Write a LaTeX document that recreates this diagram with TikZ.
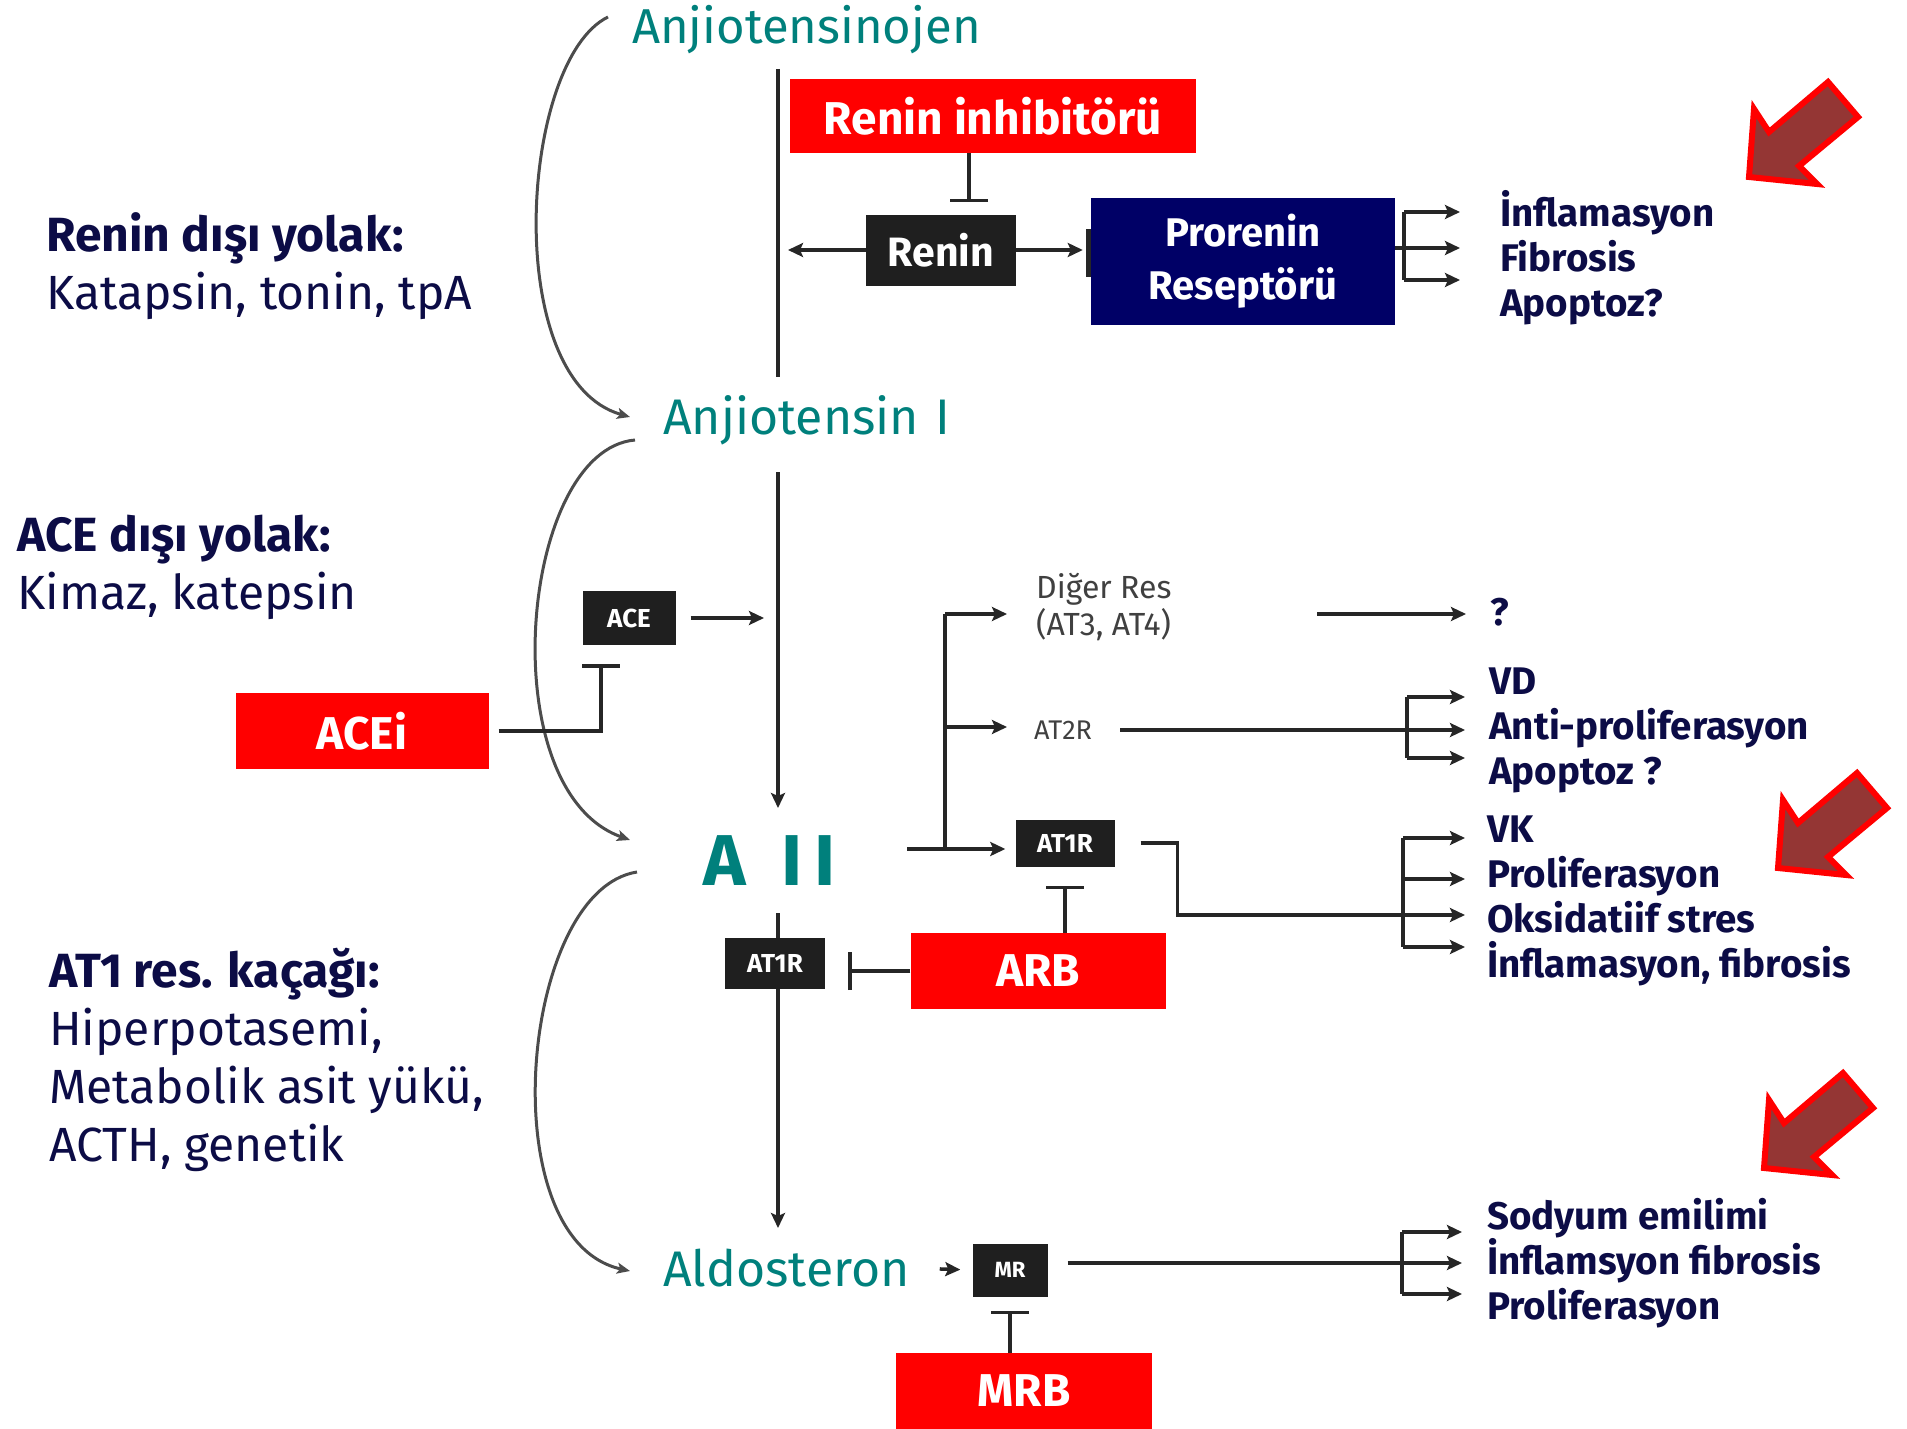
\documentclass[tikz,border=0pt]{standalone}
\usepackage{fontspec}
\setmainfont{Fira Sans}
\usetikzlibrary{arrows.meta,positioning}
\definecolor{angteal}{RGB}{0,128,124}
\definecolor{inhred}{RGB}{255,0,0}
\definecolor{prrnavy}{RGB}{0,0,102}
\definecolor{txtnavy}{RGB}{12,12,70}
\definecolor{flagbrown}{RGB}{148,54,52}
\tikzset{
  ln/.style={line width=3.5pt, draw=black!85},
  arr/.style={ln, -{Stealth[length=15pt,width=14pt,inset=3pt]}},
  inh/.style={ln, -{Bar[width=38pt]}},
  curv/.style={line width=3pt, draw=black!70, -{Stealth[length=13pt,width=11pt,inset=3pt]}},
  stage/.style={anchor=west, inner sep=0pt, text=angteal, font=\fontsize{49}{56}\selectfont},
  side/.style={anchor=west, inner sep=0pt, align=left, text=txtnavy, font=\fontsize{48}{58}\selectfont},
  effect/.style={anchor=west, inner sep=0pt, align=left, text=txtnavy, font=\bfseries\fontsize{38.5}{45}\selectfont},
  rec/.style={anchor=west, inner sep=0pt, align=left, text=black!75, font=\fontsize{32}{37}\selectfont},
  blk/.style={fill=black!88, text=white, inner sep=0pt, font=\bfseries\fontsize{26}{30}\selectfont},
  drug/.style={fill=inhred, text=white, inner sep=0pt, font=\bfseries\fontsize{46}{52}\selectfont},
  flag/.pic={
    \draw[draw=inhred, line width=6pt, fill=flagbrown]
      (0,0) -- (5,-68) -- (20,-45) -- (79,-95) -- (109,-60) -- (50,-11) -- (68,7) -- cycle;
  }
}

\begin{document}
\begin{tikzpicture}[x=1pt, y=-1pt]
  \useasboundingbox (0,0) rectangle (1907,1429);

  % main axis
  \coordinate (s1a) at (778,69);  \coordinate (s1b) at (778,377);
  \coordinate (s2a) at (778,472); \coordinate (s2b) at (778,808);
  \coordinate (s3a) at (778,913); \coordinate (s3b) at (778,1228);
  \draw[ln] (s1a) -- (s1b);
  \draw[arr] (s2a) -- (s2b);
  \draw[arr] (s3a) -- (s3b);

  \node[stage] (agen) at (632,30) {Anjiotensinojen};
  \node[stage, font=\fontsize{50}{56}\selectfont] (ang1) at (663,420) {Anjiotensin\,\,I};
  \node[stage, font=\bfseries\fontsize{72}{80}\selectfont] (aII) at (703,861) {A\enspace I\,I};
  \node[stage, font=\fontsize{50}{56}\selectfont] (aldo) at (663,1268) {Aldosteron};

  \node[side] (rdy) at (46,266) {\textbf{Renin dışı yolak:}\\Katapsin, tonin, tpA};
  \node[side] (ady) at (17,567) {\textbf{ACE dışı yolak:}\\Kimaz, katepsin};
  \node[side] (at1k) at (49,1060) {\textbf{AT1 res. kaçağı:}\\Hiperpotasemi,\\Metabolik asit yükü,\\ACTH, genetik};

  \draw[curv] ([xshift=-24pt,yshift=13pt]agen.west) .. controls (520,60) and (500,380) .. ([xshift=-33pt,yshift=3pt]ang1.west);
  \draw[curv] ([xshift=-28pt,yshift=-20pt]ang1.west) .. controls (520,450) and (490,790) .. ([xshift=-73pt,yshift=21pt]aII.west);
  \draw[curv] ([xshift=-66pt,yshift=-11pt]aII.west) .. controls (520,890) and (490,1240) .. ([xshift=-33pt,yshift=-3pt]aldo.west);

  % renin part
  \node[drug, font=\bfseries\fontsize{46}{52}\selectfont, minimum width=406pt, minimum height=74pt] (rinh) at (993,116) {Renin inhibitörü};
  \node[blk, font=\bfseries\fontsize{41}{48}\selectfont, minimum width=150pt, minimum height=71pt] (renin) at (941,250) {Renin};
  \node[fill=prrnavy, text=white, align=center, inner sep=0pt, font=\bfseries\fontsize{40}{53}\selectfont,
        minimum width=304pt, minimum height=127pt] (prr) at (1243,261) {Prorenin\\Reseptörü};
  \fill[black!85] (1086,229) rectangle (1091,277);

  \draw[inh, shorten >=12pt] ([xshift=28pt]renin.north |- rinh.south) -- ([xshift=28pt]renin.north);
  \draw[arr, shorten >=10pt] (renin.west) -- (renin.west -| s1a);
  \draw[arr, shorten >=8pt] (renin.east) -- (renin.east -| prr.west);

  \node[effect] (prfx) at (1500,258) {İnflamasyon\\Fibrosis\\Apoptoz?};
  \coordinate (pf) at (1404,248);
  \draw[ln] (prr.east |- pf) -- (pf);
  \draw[ln] ([yshift=36pt]pf) -- ([yshift=-32pt]pf);
  \foreach \d in {36,0,-32}
    \draw[arr] ([yshift=\d pt]pf) -- ++(56,0);

  % ACE
  \node[blk] (ace) at (629,618) [minimum width=93pt, minimum height=54pt] {ACE};
  \node[drug, minimum width=253pt, minimum height=76pt] (acei) at (362,731) {ACEi};
  \coordinate (acebar) at (601,664);
  \draw[arr, shorten <=15pt, shorten >=14pt] (ace.east) -- (ace.east -| s2a);
  \draw[inh, shorten <=10pt] (acei.east) -| (acebar);

  % A II receptors
  \node[blk, minimum width=100pt, minimum height=51pt] (at1b) at (775,963) {AT1R};
  \node[blk, minimum width=99pt, minimum height=47pt] (at1a) at (1065,843) {AT1R};
  \node[rec] (dres) at (1036,607) {Diğer Res\\(AT3, AT4)};
  \node[rec, font=\fontsize{27}{30}\selectfont] (at2) at (1034,730) {AT2R};
  \node[effect] (qm) at (1490,612) {?};
  \node[drug, minimum width=255pt, minimum height=76pt] (arb) at (1038,971) {ARB};

  \coordinate (br0) at (907,849);
  \coordinate (brv) at (945,849);
  \coordinate (brtop) at (945,614);
  \coordinate (brmid) at (945,727);
  \draw[arr, shorten >=10pt] (br0) -- (at1a.west |- br0);
  \draw[ln] (brv) -- (brtop);
  \draw[arr] (brtop) -- ++(62,0);
  \draw[arr] (brmid) -- ++(62,0);

  \coordinate (dq) at (1317,614);
  \draw[arr, shorten >=24pt] (dq) -- (qm.west |- dq);

  \node[effect] (at2fx) at (1489,730) {VD\\Anti-proliferasyon\\Apoptoz ?};
  \coordinate (at2f) at (1407,730);
  \draw[ln, shorten <=28pt] (at2.east) -- (at2f);
  \draw[ln] ([yshift=33pt]at2f) -- ([yshift=-28pt]at2f);
  \foreach \d in {33,0,-28}
    \draw[arr] ([yshift=\d pt]at2f) -- ++(58,0);

  \node[effect] (at1fx) at (1487,901) {VK\\Proliferasyon\\Oksidatiif stres\\İnflamasyon, fibrosis};
  \coordinate (at1f) at (1403,915);
  \draw[ln, shorten <=26pt] (at1a.east) -- ++(63,0) |- (at1f);
  \draw[ln] ([yshift=77pt]at1f) -- ([yshift=-32pt]at1f);
  \foreach \d in {77,36,0,-32}
    \draw[arr] ([yshift=\d pt]at1f) -- ++(62,0);

  \draw[inh, shorten >=19pt] (arb.north -| at1a.south) -- (at1a.south);
  \draw[inh, shorten >=23pt] (arb.west) -- (at1b.east |- arb.west);

  % aldosterone
  \node[blk, font=\bfseries\fontsize{22}{26}\selectfont, minimum width=75pt, minimum height=53pt] (mr) at (1010,1270) {MR};
  \node[drug, minimum width=256pt, minimum height=76pt] (mrb) at (1024,1391) {MRB};
  \draw[arr, shorten <=30pt, shorten >=12pt] (aldo.east) -- (mr.west);
  \draw[inh, shorten >=14pt] (mrb.north -| mr.south) -- (mr.south);

  \node[effect] (mrfx) at (1487,1263) {Sodyum emilimi\\İnflamsyon fibrosis\\Proliferasyon};
  \coordinate (mrf) at (1402,1263);
  \draw[ln, shorten <=20pt] (mr.east |- mrf) -- (mrf);
  \draw[ln] ([yshift=31pt]mrf) -- ([yshift=-31pt]mrf);
  \foreach \d in {31,0,-31}
    \draw[arr] ([yshift=\d pt]mrf) -- ++(60,0);

  % warning arrows
  \pic at (1749,177) {flag};
  \pic at (1778,868) {flag};
  \pic at (1764,1168) {flag};
\end{tikzpicture}
\end{document}
